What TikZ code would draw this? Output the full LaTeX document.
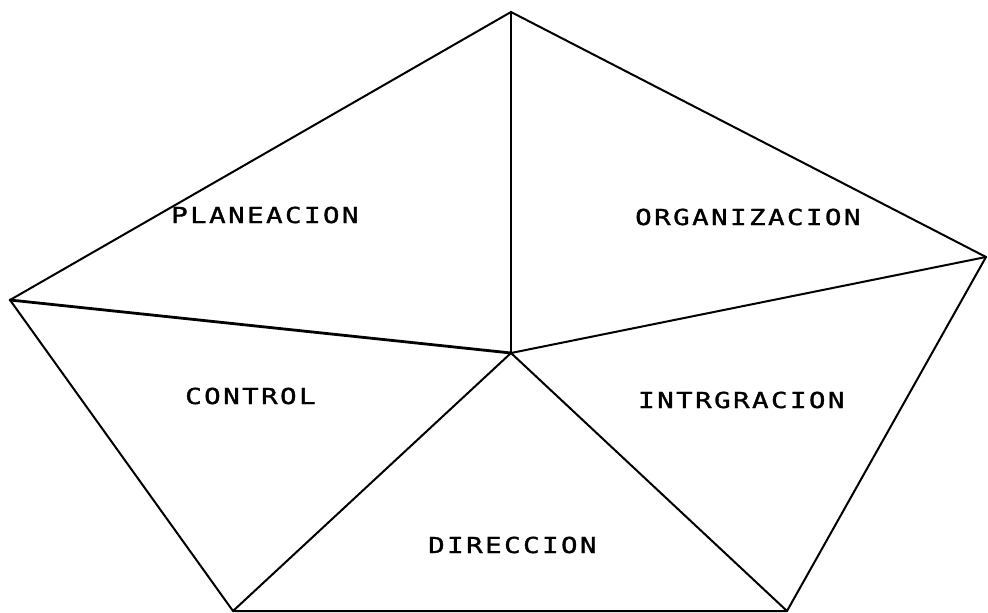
\documentclass[tikz,border=0pt]{standalone}
\usepackage{fontspec}
\newfontfamily\plotfont[LetterSpace=11,FakeStretch=1.25,FakeBold=1.5]{DejaVu Sans Mono}
\begin{document}
\begin{tikzpicture}[x=1pt,y=-1pt,
  edge/.style={line width=2pt,line join=round,line cap=round},
  thick edge/.style={line width=2.8pt,line join=round,line cap=round},
  lbl/.style={anchor=base west,inner sep=0pt,font=\plotfont\fontsize{22}{23}\selectfont}]
\useasboundingbox (0,0) rectangle (988,613);
\coordinate (T) at (511,12);
\coordinate (R) at (986,257);
\coordinate (BR) at (787,611);
\coordinate (BL) at (233,611);
\coordinate (L) at (10,300);
\coordinate (C) at (511,353);
\draw[edge] (T) -- (R) -- (BR) -- (BL) -- (L) -- cycle;
\draw[thick edge] (T) -- (C);
\draw[thick edge] (L) -- (C);
\draw[edge] (R) -- (C);
\draw[edge] (BR) -- (C);
\draw[edge] (BL) -- (C);
\node[lbl] (plan) at (171,223) {PLANEACION};
\node[lbl] (org) at (635,225) {ORGANIZACION};
\node[lbl] (ctrl) at (185,404) {CONTROL};
\node[lbl] (intg) at (638,408) {INTRGRACION};
\node[lbl] (dir) at (428,553) {DIRECCION};
\end{tikzpicture}
\end{document}
